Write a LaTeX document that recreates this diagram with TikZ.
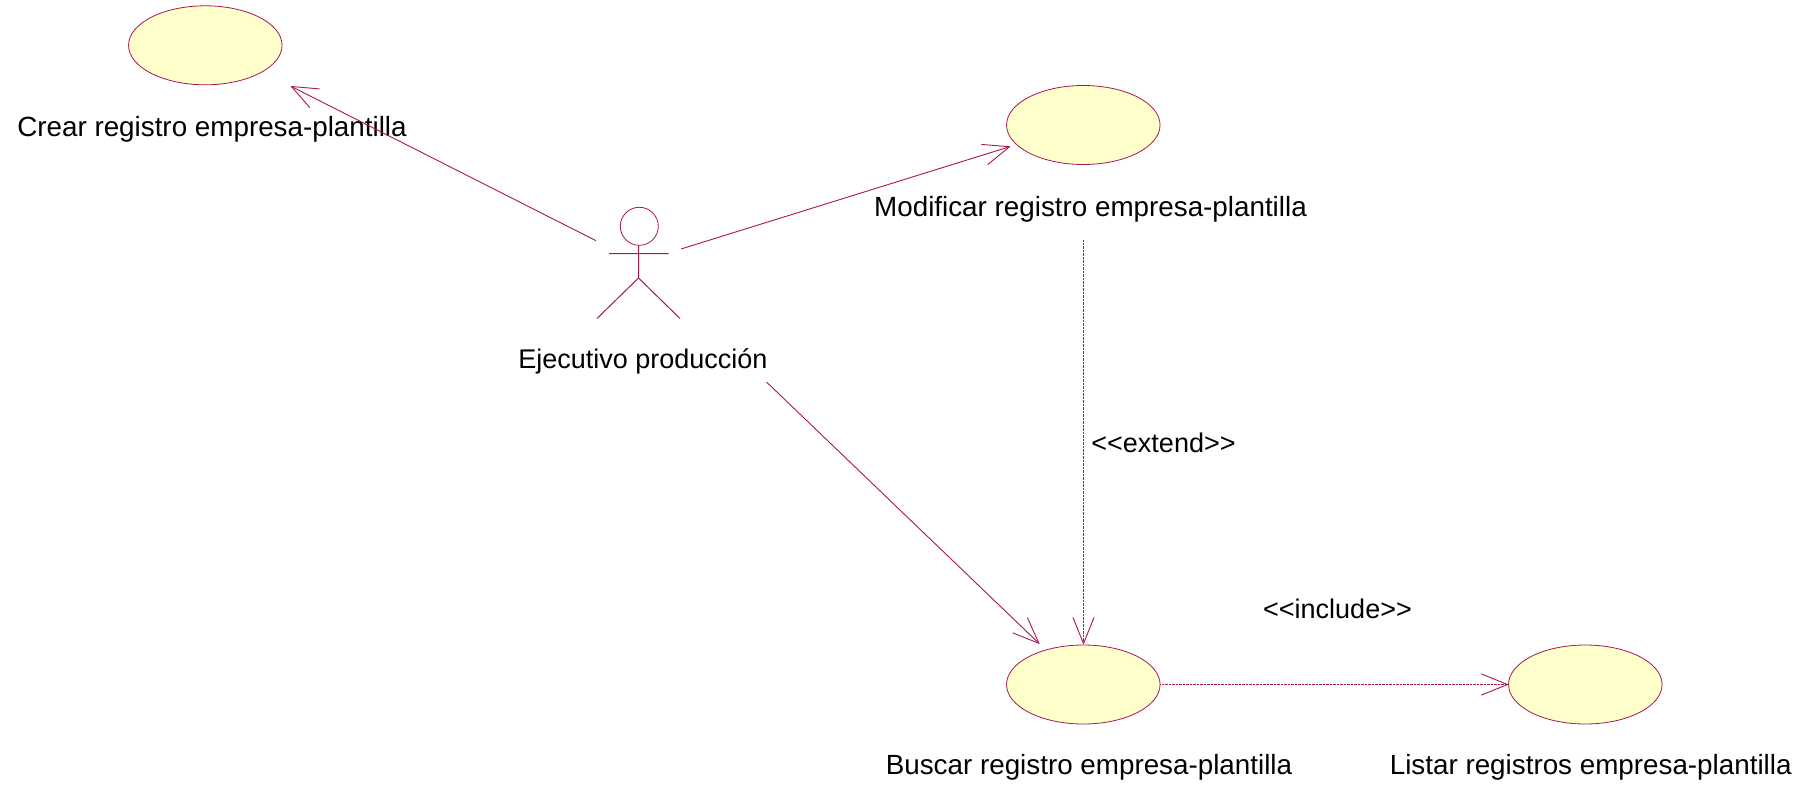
\documentclass[tikz,border=0pt]{standalone}
\usepackage{fontspec}
\setmainfont{Liberation Sans}
\usetikzlibrary{arrows.meta,shapes.geometric}
\definecolor{umlline}{HTML}{A8174F}
\definecolor{umlfill}{HTML}{FFFFCC}
\tikzset{
  usecase/.style={ellipse,draw=umlline,fill=umlfill,line width=0.8pt,minimum width=153.5pt,minimum height=79pt,inner sep=0pt},
  assoc/.style={draw=umlline,line width=0.9pt,-{Straight Barb[length=26pt,width=21pt,line width=0.9pt,round=false]}},
  dep/.style={assoc,dash pattern=on 1pt off 0.4pt},
  actorline/.style={draw=umlline,line width=1pt},
  label/.style={font=\fontsize{27.8pt}{31pt}\selectfont,text=black,inner sep=0pt,anchor=center},
  shortlabel/.style={label,font=\fontsize{27pt}{31pt}\selectfont}
}
\begin{document}
\begin{tikzpicture}[x=1pt,y=-1pt]
\useasboundingbox (0,0) rectangle (1810,787);
% use cases
\node[usecase] (crear) at (205.3,45.3) {};
\node[usecase] (modificar) at (1083.3,125) {};
\node[usecase] (buscar) at (1083.3,684.5) {};
\node[usecase] (listar) at (1585.3,684.5) {};
% actor
\node[circle,draw=umlline,line width=0.8pt,minimum size=38pt,inner sep=0pt] (head) at (639.3,226.3) {};
\coordinate (hip) at (638.5,278);
\coordinate (neck) at (638.5,245);
\coordinate (armL) at (609,253.5);
\coordinate (armR) at (668.7,253.5);
\coordinate (footL) at (597,318.5);
\coordinate (footR) at (680,318.5);
\draw[actorline] (neck) -- (hip) (armL) -- (armR) (footL) -- (hip) -- (footR);
% labels
\node[label] (lcrear) at (212,129) {Crear registro empresa-plantilla};
\node[label] (lmod) at (1090.5,209) {Modificar registro empresa-plantilla};
\node[shortlabel] (lejec) at (643,361) {Ejecutivo producción};
\node[shortlabel] (lext) at (1163.5,442.5) {<{}<extend>{}>};
\node[shortlabel] (linc) at (1337.5,608.5) {<{}<include>{}>};
\node[label] (lbus) at (1089,767) {Buscar registro empresa-plantilla};
\node[label] (llis) at (1590.7,767) {Listar registros empresa-plantilla};
% connector ends
\coordinate (a1) at (596,240.7);
\coordinate (t1) at (291,86.3);
\coordinate (a2) at (681,249);
\coordinate (t2) at (1010,146.6);
\coordinate (a3) at (766.5,382);
\coordinate (t3) at (1039.3,643.7);
\coordinate (m1) at (1083.5,240);
\coordinate (t4) at (1083.5,644);
\coordinate (t5) at (1508,684.5);
\draw[assoc] (a1) -- (t1);
\draw[assoc] (a2) -- (t2);
\draw[assoc] (a3) -- (t3);
\draw[dep] (m1) -- (t4);
\draw[dep] (buscar.east) -- (t5);
\end{tikzpicture}
\end{document}
